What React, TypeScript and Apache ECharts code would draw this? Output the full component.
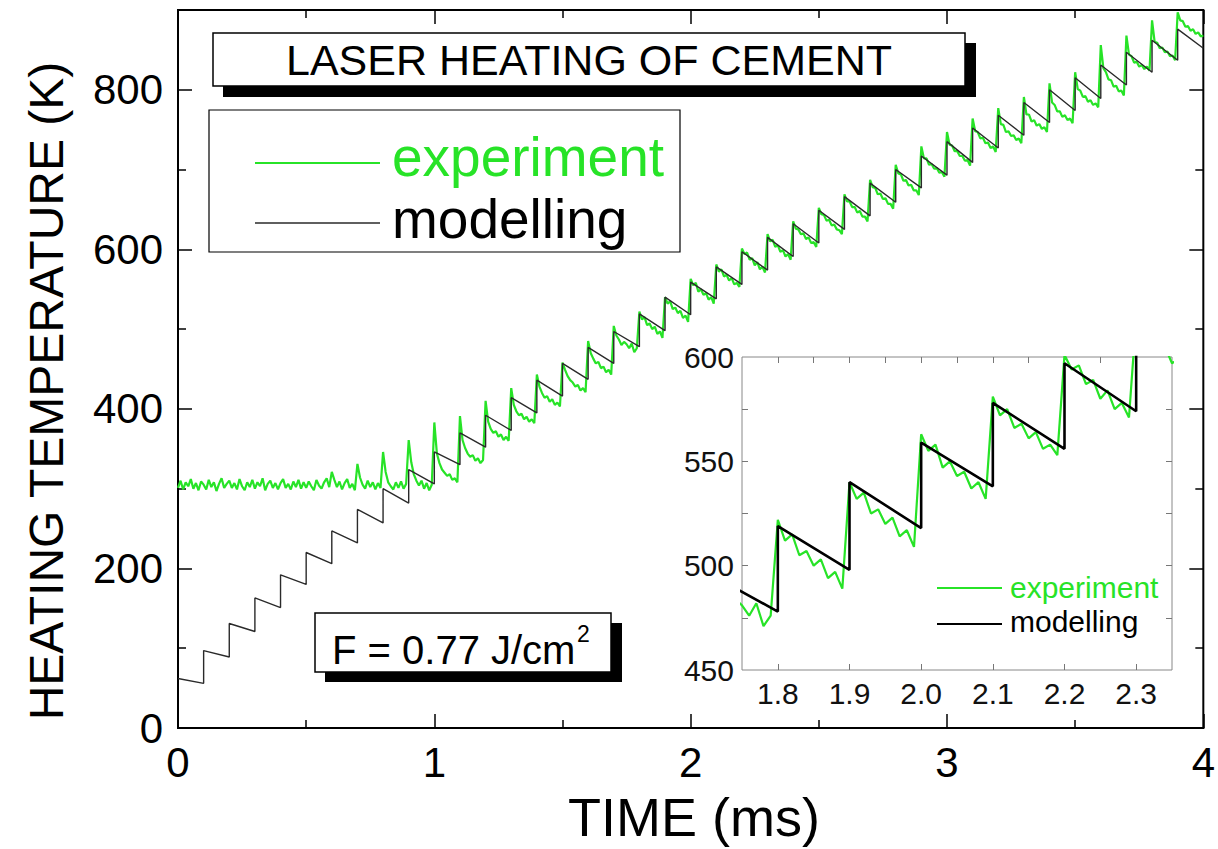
import { useEffect, useRef } from 'react';
import * as echarts from 'echarts';

// ---------- data ----------
// modelling: value at t=0, values just before / just after each laser pulse (every 0.1 ms), value at t=4 ms
const modelStart = 62;
const modelBefore = [56, 89, 121, 151, 180, 206, 232, 257, 282, 306, 330, 352, 373, 395, 416, 437, 457, 478, 498, 518, 538, 556, 574, 591, 608, 625, 642, 659, 677, 693, 709, 727, 743, 759, 774, 789, 806, 822, 837];
const modelAfter = [97, 131, 163, 192, 220, 247, 274, 300, 324, 346, 370, 392, 414, 436, 457, 477, 497, 519, 540, 559, 578, 597, 615, 632, 649, 666, 683, 700, 717, 735, 752, 768, 784, 800, 815, 831, 847, 862, 876];
const modelEnd = 852;
const pulsePeriod = 0.1;

// experiment: one row per pulse period, samples every 0.01 ms
const sampleStep = 0.01;
const experimentRows = [
  [301, 310, 299, 308, 303, 312, 300, 307, 298, 309],
  [305, 299, 311, 302, 308, 297, 306, 313, 301, 306],
  [310, 301, 307, 299, 312, 303, 298, 308, 302, 311],
  [300, 308, 303, 313, 298, 306, 310, 301, 307, 299],
  [307, 312, 301, 306, 299, 309, 302, 311, 300, 308],
  [301, 309, 303, 298, 311, 304, 300, 308, 313, 302],
  [321, 311, 302, 309, 299, 307, 312, 301, 306, 298],
  [331, 314, 305, 300, 310, 302, 308, 299, 307, 301],
  [346, 321, 308, 303, 299, 308, 301, 309, 300, 306],
  [361, 333, 318, 310, 304, 310, 300, 307, 298, 305],
  [383, 344, 332, 324, 320, 316, 318, 311, 313, 308],
  [391, 361, 351, 344, 340, 342, 335, 338, 332, 336],
  [410, 384, 375, 370, 372, 365, 368, 361, 365, 360],
  [426, 405, 397, 392, 394, 387, 390, 384, 387, 382],
  [443, 428, 420, 414, 416, 409, 412, 405, 408, 403],
  [458, 449, 441, 436, 433, 428, 430, 423, 426, 421],
  [485, 470, 463, 457, 459, 451, 453, 446, 449, 443],
  [504, 492, 487, 480, 484, 481, 476, 482, 471, 476],
  [522, 512, 515, 505, 507, 500, 503, 494, 497, 489],
  [540, 532, 535, 525, 527, 520, 523, 514, 517, 509],
  [563, 555, 558, 547, 550, 543, 545, 537, 540, 532],
  [581, 572, 575, 566, 568, 561, 564, 556, 558, 553],
  [601, 594, 596, 587, 589, 580, 584, 575, 578, 571],
  [619, 610, 612, 603, 605, 597, 599, 591, 594, 587],
  [635, 626, 625, 619, 620, 613, 615, 608, 609, 603],
  [652, 644, 643, 636, 637, 630, 631, 625, 624, 619],
  [669, 660, 660, 653, 653, 646, 648, 641, 641, 635],
  [687, 678, 677, 669, 670, 663, 664, 657, 657, 651],
  [706, 695, 694, 686, 687, 680, 681, 674, 674, 668],
  [729, 714, 714, 706, 707, 701, 702, 696, 697, 691],
  [747, 731, 730, 723, 723, 717, 717, 711, 712, 705],
  [764, 748, 747, 739, 740, 733, 734, 727, 729, 722],
  [777, 757, 756, 747, 748, 742, 743, 737, 739, 733],
  [791, 769, 769, 760, 762, 755, 757, 751, 753, 747],
  [808, 784, 781, 773, 773, 766, 768, 762, 764, 758],
  [822, 801, 799, 791, 792, 785, 787, 781, 783, 778],
  [856, 827, 822, 813, 812, 804, 805, 798, 799, 793],
  [868, 844, 842, 834, 835, 829, 831, 826, 829, 824],
  [887, 860, 859, 852, 853, 847, 848, 842, 843, 837],
  [897, 887, 886, 879, 880, 874, 876, 870, 872, 867],
];
const experimentEnd = 868;

// axes / ticks
const yTickLabels = [0, 200, 400, 600, 800];
const yMinorTicks = [100, 300, 500, 700];
const insetXLabels = [1.8, 1.9, 2.0, 2.1, 2.2, 2.3];
const insetXTopTicks = [1.8, 1.85, 1.9, 1.95, 2.0, 2.05, 2.1, 2.15, 2.2, 2.25, 2.3];
const insetYTicks = [475, 500, 525, 550, 575];

const FONT = '"Liberation Sans", Arial, Helvetica, sans-serif';
const GREEN = '#27e327';

function buildModel(): number[][] {
  const d: number[][] = [[0, modelStart]];
  modelBefore.forEach((b, i) => {
    const t = Math.round((i + 1) * pulsePeriod * 100) / 100;
    d.push([t, b]);
    d.push([t, modelAfter[i]]);
  });
  d.push([4, modelEnd]);
  return d;
}

function buildExperiment(): number[][] {
  const d: number[][] = [];
  experimentRows.forEach((row, k) => {
    row.forEach((v, j) => {
      d.push([Math.round((k * 10 + j) * sampleStep * 100) / 100, v]);
    });
  });
  d.push([4, experimentEnd]);
  return d;
}

export default function App() {
  const ref = useRef<HTMLDivElement>(null);
  useEffect(() => {
    if (!ref.current) return;
    const chart = echarts.init(ref.current, null, { renderer: 'svg' });
    const model = buildModel();
    const exp = buildExperiment();
    const black = '#000';
    const tickStyle = { color: black, width: 1.5 };
    const insetTick = { color: '#777', width: 1 };
    const txt = (text: string, x: number, y: number, size: number, fill: string, align = 'left', extra: any = {}) => ({
      type: 'text',
      z: 100,
      ...extra,
      style: {
        text, x, y, fill,
        fontSize: size, fontFamily: FONT,
        align, verticalAlign: 'middle',
        textAlign: align, textVerticalAlign: 'middle',
      },
    });
    chart.setOption({
      animation: false,
      backgroundColor: '#fff',
      grid: [
        { left: 178, right: 10, top: 10, bottom: 121, show: true, borderColor: black, borderWidth: 2, containLabel: false },
        { left: 742, top: 357, width: 430, height: 313, show: true, borderColor: '#888', borderWidth: 1, backgroundColor: '#fff', containLabel: false },
      ],
      xAxis: [
        {
          type: 'value', gridIndex: 0, min: 0, max: 4, interval: 1, position: 'bottom',
          axisLine: { show: true, onZero: false, lineStyle: { color: black, width: 2 } },
          axisTick: { show: true, inside: true, length: 14, lineStyle: tickStyle },
          minorTick: { show: true, splitNumber: 2, length: 8, lineStyle: tickStyle },
          axisLabel: { show: true, fontSize: 42, color: black, margin: 13, fontFamily: FONT },
          splitLine: { show: false }, minorSplitLine: { show: false },
        },
        {
          type: 'value', gridIndex: 0, min: 0, max: 4, interval: 1, position: 'top',
          axisLine: { show: false, onZero: false },
          axisTick: { show: true, inside: true, length: 14, lineStyle: tickStyle },
          minorTick: { show: true, splitNumber: 2, length: 8, lineStyle: tickStyle },
          axisLabel: { show: false },
          splitLine: { show: false }, minorSplitLine: { show: false },
        },
        {
          type: 'value', gridIndex: 1, min: 1.75, max: 2.35, position: 'bottom',
          axisLine: { show: false, onZero: false },
          axisTick: { show: true, inside: true, length: 6, lineStyle: insetTick, customValues: insetXLabels },
          axisLabel: { show: true, customValues: insetXLabels, formatter: (v: number) => v.toFixed(1), fontSize: 30, color: '#111', margin: 8, fontFamily: FONT },
          splitLine: { show: false },
        },
        {
          type: 'value', gridIndex: 1, min: 1.75, max: 2.35, position: 'top',
          axisLine: { show: false, onZero: false },
          axisTick: { show: true, inside: true, length: 6, lineStyle: insetTick, customValues: insetXTopTicks },
          axisLabel: { show: false },
          splitLine: { show: false },
        },
      ],
      yAxis: [
        {
          type: 'value', gridIndex: 0, min: 0, max: 900, position: 'left',
          axisLine: { show: true, onZero: false, lineStyle: { color: black, width: 2 } },
          axisTick: { show: true, inside: true, length: 14, lineStyle: tickStyle, customValues: yTickLabels },
          axisLabel: { show: true, customValues: yTickLabels, fontSize: 42, color: black, margin: 15, fontFamily: FONT },
          splitLine: { show: false },
        },
        {
          type: 'value', gridIndex: 0, min: 0, max: 900, position: 'left',
          axisLine: { show: false, onZero: false },
          axisTick: { show: true, inside: true, length: 8, lineStyle: tickStyle, customValues: yMinorTicks },
          axisLabel: { show: false },
          splitLine: { show: false },
        },
        {
          type: 'value', gridIndex: 0, min: 0, max: 900, position: 'right',
          axisLine: { show: false, onZero: false },
          axisTick: { show: true, inside: true, length: 14, lineStyle: tickStyle, customValues: yTickLabels },
          axisLabel: { show: false },
          splitLine: { show: false },
        },
        {
          type: 'value', gridIndex: 0, min: 0, max: 900, position: 'right',
          axisLine: { show: false, onZero: false },
          axisTick: { show: true, inside: true, length: 8, lineStyle: tickStyle, customValues: yMinorTicks },
          axisLabel: { show: false },
          splitLine: { show: false },
        },
        {
          type: 'value', gridIndex: 1, min: 450, max: 600, interval: 50, position: 'left',
          axisLine: { show: false, onZero: false },
          axisTick: { show: true, inside: true, length: 6, lineStyle: insetTick, customValues: insetYTicks },
          axisLabel: { show: true, fontSize: 30, color: '#111', margin: 8, fontFamily: FONT },
          splitLine: { show: false },
        },
        {
          type: 'value', gridIndex: 1, min: 450, max: 600, interval: 50, position: 'right',
          axisLine: { show: false, onZero: false },
          axisTick: { show: true, inside: true, length: 6, lineStyle: insetTick, customValues: insetYTicks },
          axisLabel: { show: false },
          splitLine: { show: false },
        },
      ],
      series: [
        {
          name: 'experiment', type: 'line', xAxisIndex: 0, yAxisIndex: 0, data: exp,
          showSymbol: false, symbol: 'none', lineStyle: { color: GREEN, width: 2.2 }, z: 2,
        },
        {
          name: 'modelling', type: 'line', xAxisIndex: 0, yAxisIndex: 0, data: model,
          showSymbol: false, symbol: 'none', lineStyle: { color: '#2a2a2a', width: 1.4 }, z: 3,
        },
        {
          name: 'experiment (inset)', type: 'line', xAxisIndex: 2, yAxisIndex: 4, data: exp, clip: true,
          showSymbol: false, symbol: 'none', lineStyle: { color: GREEN, width: 2.2 }, z: 4,
        },
        {
          name: 'modelling (inset)', type: 'line', xAxisIndex: 2, yAxisIndex: 4, data: model, clip: true,
          showSymbol: false, symbol: 'none', lineStyle: { color: '#000', width: 2.6 }, z: 5,
        },
      ],
      graphic: [
        // title box with shadow
        { type: 'rect', z: 100, shape: { x: 223, y: 43, width: 753, height: 54 }, style: { fill: '#000' } },
        { type: 'rect', z: 101, shape: { x: 213, y: 33, width: 752, height: 53 }, style: { fill: '#fff', stroke: '#000', lineWidth: 1.5 } },
        txt('LASER HEATING OF CEMENT', 589, 60, 43, '#000', 'center', { z: 102 }),
        // main legend
        { type: 'rect', z: 100, shape: { x: 209, y: 110, width: 471, height: 142 }, style: { fill: '#fff', stroke: '#000', lineWidth: 1.2 } },
        { type: 'line', z: 101, shape: { x1: 255, y1: 163, x2: 380, y2: 163 }, style: { stroke: GREEN, lineWidth: 2 } },
        { type: 'line', z: 101, shape: { x1: 255, y1: 223, x2: 380, y2: 223 }, style: { stroke: '#2a2a2a', lineWidth: 1.5 } },
        txt('experiment', 392, 157, 55, GREEN, 'left', { z: 102 }),
        txt('modelling', 392, 219, 55, '#000', 'left', { z: 102 }),
        // fluence box with shadow
        { type: 'rect', z: 100, shape: { x: 325, y: 623, width: 297, height: 59 }, style: { fill: '#000' } },
        { type: 'rect', z: 101, shape: { x: 315, y: 613, width: 296, height: 59 }, style: { fill: '#fff', stroke: '#000', lineWidth: 1.5 } },
        txt('F = 0.77 J/cm', 332, 650, 40, '#000', 'left', { z: 102 }),
        txt('2', 577, 634, 23, '#000', 'left', { z: 102 }),
        // axis titles
        txt('HEATING TEMPERATURE (K)', 0, 0, 48, '#000', 'center', { x: 46, y: 391, rotation: Math.PI / 2, z: 102 }),
        txt('TIME (ms)', 694, 817, 54, '#000', 'center', { z: 102 }),
        // inset legend
        { type: 'line', z: 101, shape: { x1: 937, y1: 588, x2: 1002, y2: 588 }, style: { stroke: GREEN, lineWidth: 2 } },
        { type: 'line', z: 101, shape: { x1: 937, y1: 624, x2: 1002, y2: 624 }, style: { stroke: '#000', lineWidth: 2 } },
        txt('experiment', 1010, 587, 30, GREEN, 'left', { z: 102 }),
        txt('modelling', 1010, 621, 30, '#000', 'left', { z: 102 }),
      ],
    });
    return () => chart.dispose();
  }, []);
  return <div ref={ref} style={{ position: 'fixed', left: 0, top: 0, width: 1218, height: 849, background: '#fff' }} />;
}
